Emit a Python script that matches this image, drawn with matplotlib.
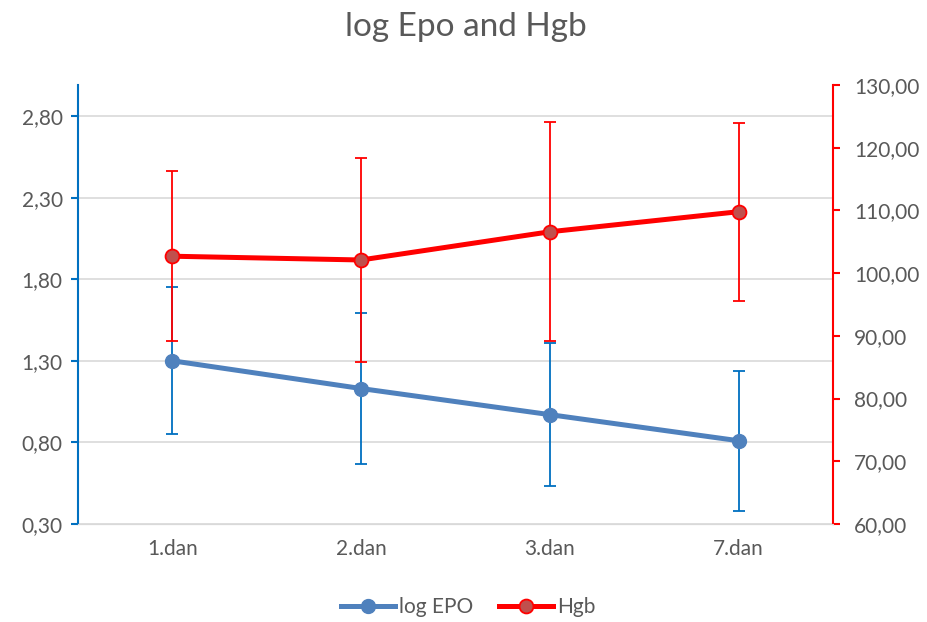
import numpy as np
import matplotlib.pyplot as plt
import matplotlib as mpl
from matplotlib.ticker import FuncFormatter, FixedLocator

mpl.rc('font', family=['Lato', 'DejaVu Sans'])

# data
days = ['1.dan', '2.dan', '3.dan', '7.dan']
log_epo = [1.30, 1.13, 0.97, 0.81]
log_epo_err = [0.45, 0.46, 0.44, 0.43]
hgb = [102.7, 102.1, 106.6, 109.8]
hgb_err = [13.6, 16.2, 17.5, 14.2]

left_ticks = [0.30, 0.80, 1.30, 1.80, 2.30, 2.80]
right_ticks = [60, 70, 80, 90, 100, 110, 120, 130]

blue = '#4f81bd'
blue_err = '#0070c0'
red = '#ff0000'
grey_text = '#595959'

fig = plt.figure(figsize=(9.27, 6.22), dpi=100)
ax = fig.add_axes([0.0841, 0.1576, 0.8145, 0.7057])
ax2 = ax.twinx()

x = np.arange(len(days))

# log EPO on left axis
ax.errorbar(x, log_epo, yerr=log_epo_err, fmt='none', ecolor=blue_err,
            elinewidth=1.3, capsize=4.5, capthick=1.3, zorder=2)
ax.plot(x, log_epo, color=blue, lw=3.6, marker='o', ms=10,
        mfc=blue, mec=blue, zorder=3, label='log EPO')

# Hgb on right axis
ax2.errorbar(x, hgb, yerr=hgb_err, fmt='none', ecolor=red,
             elinewidth=1.3, capsize=4.5, capthick=1.3, zorder=2)
ax2.plot(x, hgb, color=red, lw=3.6, marker='o', ms=10,
         mfc='#c0504d', mec=red, mew=1.3, zorder=3, label='Hgb')

ax.set_xlim(-0.5, 3.5)
ax.set_ylim(0.30, 0.30 + 439 / 163.2)
ax2.set_ylim(60, 130)

ax.yaxis.set_major_locator(FixedLocator(left_ticks))
ax2.yaxis.set_major_locator(FixedLocator(right_ticks))
ax.yaxis.set_major_formatter(FuncFormatter(lambda v, p: f'{v:.2f}'.replace('.', ',')))
ax2.yaxis.set_major_formatter(FuncFormatter(lambda v, p: f'{v:.2f}'.replace('.', ',')))

ax.set_xticks(x)
ax.set_xticklabels(days)
ax.grid(axis='y', color='#d9d9d9', lw=1.2, zorder=0)
ax.set_axisbelow(True)

for a in (ax, ax2):
    a.spines['top'].set_visible(False)
    a.spines['bottom'].set_color('#d9d9d9')
ax.spines['right'].set_visible(False)
ax2.spines['left'].set_visible(False)
ax.spines['left'].set_color(blue_err)
ax.spines['left'].set_linewidth(1.5)
ax2.spines['right'].set_color(red)
ax2.spines['right'].set_linewidth(1.5)

ax.tick_params(axis='y', colors=blue_err, labelcolor=grey_text, labelsize=15,
               length=5, width=1.5, pad=6)
ax2.tick_params(axis='y', colors=red, labelcolor=grey_text, labelsize=15,
                length=5, width=1.5, pad=10)
ax.tick_params(axis='x', length=0, labelcolor=grey_text, labelsize=15, pad=11)

fig.suptitle('log Epo and Hgb', x=0.503, y=0.98, fontsize=24, color=grey_text)

h1, l1 = ax.get_legend_handles_labels()
h2, l2 = ax2.get_legend_handles_labels()
fig.legend(h1 + h2, l1 + l2, loc='center', bbox_to_anchor=(0.505, 0.024),
           ncol=2, frameon=False, fontsize=15, labelcolor=grey_text,
           handlelength=2.6, handletextpad=0.2, columnspacing=1.2)

fig.savefig('out.png', dpi=100)
